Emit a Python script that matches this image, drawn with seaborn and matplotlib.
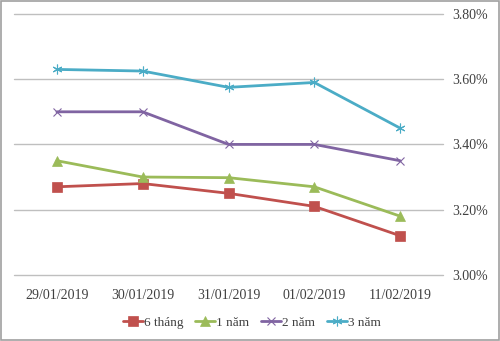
import matplotlib
matplotlib.use("Agg")
import matplotlib.pyplot as plt
import seaborn as sns
import pandas as pd
from matplotlib.ticker import FuncFormatter
from matplotlib.patches import Rectangle

dates = ["29/01/2019", "30/01/2019", "31/01/2019", "01/02/2019", "11/02/2019"]
s6m = [3.27, 3.28, 3.25, 3.21, 3.12]
s1y = [3.35, 3.30, 3.298, 3.27, 3.18]
s2y = [3.50, 3.50, 3.40, 3.40, 3.35]
s3y = [3.63, 3.625, 3.575, 3.59, 3.45]
names = ["6 tháng", "1 năm", "2 năm", "3 năm"]
yticks = [3.00, 3.20, 3.40, 3.60, 3.80]

colors = ["#C0504D", "#9BBB59", "#8064A2", "#4BACC6"]
markers = ["s", "^", "x", (6, 2, 0)]
msizes = [7, 7, 6, 7]

sns.set_theme(style="white")
plt.rcParams["font.family"] = ["Liberation Serif", "DejaVu Serif"]

fig = plt.figure(figsize=(5.0, 3.41), dpi=100)
ax = fig.add_axes([0.028, 0.194, 0.858, 0.765])

for name, vals, c, m, ms in zip(names, [s6m, s1y, s2y, s3y], colors, markers, msizes):
    df = pd.DataFrame({"date": dates, "value": vals})
    sns.lineplot(data=df, x="date", y="value", ax=ax, color=c, marker=m,
                 markersize=ms, linewidth=2.0, label=name, sort=False,
                 markeredgecolor=c, markeredgewidth=0.8 if m in ("x", (6, 2, 0)) else 0.5)

ax.set_xlim(-0.5, 4.5)
ax.set_ylim(3.0, 3.8)
ax.set_yticks(yticks)
ax.yaxis.tick_right()
ax.yaxis.set_major_formatter(FuncFormatter(lambda v, p: f"{v:.2f}%"))
ax.grid(axis="y", color="#BFBFBF", linewidth=1.0)
for gl in ax.get_ygridlines():
    gl.set_clip_on(False)
ax.grid(axis="x", visible=False)
for s in ax.spines.values():
    s.set_visible(False)
ax.tick_params(axis="y", length=0, pad=7, labelsize=10, labelcolor="#404040")
ax.tick_params(axis="x", length=0, pad=10, labelsize=10, labelcolor="#404040")
ax.set_xlabel("")
ax.set_ylabel("")

handles, labels = ax.get_legend_handles_labels()
ax.get_legend().remove()
fig.legend(handles, labels, loc="center", bbox_to_anchor=(0.504, 0.053), ncol=4,
           frameon=False, fontsize=9.5, handlelength=1.5, handletextpad=0.1,
           columnspacing=0.9, labelcolor="#404040")

fig.patches.append(Rectangle((0.002, 0.003), 0.996, 0.994, transform=fig.transFigure,
                             fill=False, edgecolor="#A0A0A0", linewidth=1.2))

fig.savefig("out.png", dpi=100)
